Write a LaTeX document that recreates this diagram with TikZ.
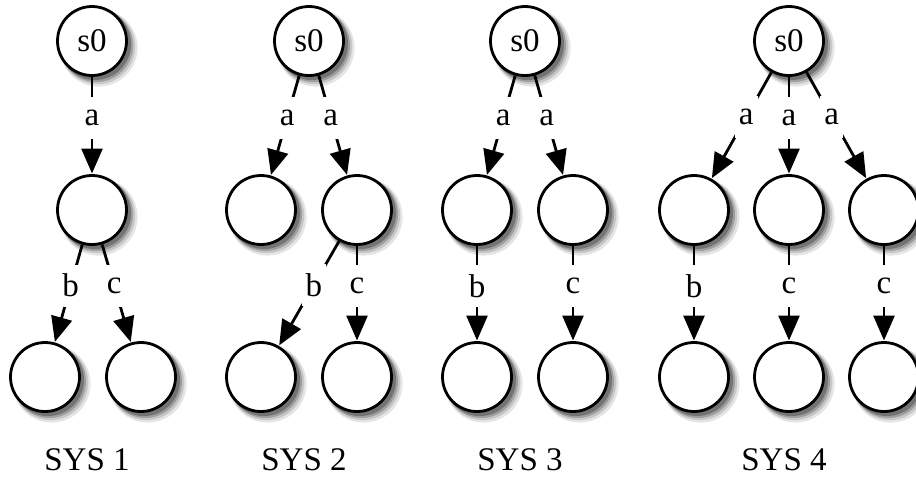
\documentclass[tikz,border=0pt]{standalone}
\usepackage{fontspec}
\setmainfont{Liberation Serif}
\usetikzlibrary{arrows.meta}
% state circle with a soft shadow to the lower right
\newcommand{\stnode}[3]{%
  \fill[black!10](#2)++(3.4pt,-3.4pt)circle(19.4pt);
  \fill[black!22](#2)++(2.8pt,-2.8pt)circle(18.8pt);
  \fill[black!38](#2)++(2.2pt,-2.2pt)circle(18.3pt);
  \fill[black!55](#2)++(1.5pt,-1.5pt)circle(18pt);
  \node[st](#1)at(#2){#3};}

\begin{document}
\begin{tikzpicture}[x=0.5pt,y=-0.5pt,
    st/.style={circle,draw,line width=1.4pt,fill=white,minimum size=34.5pt,inner sep=0pt},
    tr/.style={-{Triangle[length=12.5pt,width=10.5pt]},line width=1.4pt,shorten >=0.3pt},
    lbl/.style={pos=0.42,fill=white,inner xsep=2pt,inner ysep=0pt,minimum height=21pt},
    font=\fontsize{16.5}{19}\selectfont]
  \useasboundingbox(0,0)rectangle(916,478);
  % SYS 1
  \stnode{a0}{92,41}{s0}
  \stnode{a1}{92,210}{}
  \stnode{a2}{45,377}{}
  \stnode{a3}{141,377}{}
  \draw[tr](a0)--node[lbl]{a}(a1);
  \draw[tr](a1)--node[lbl]{b}(a2);
  \draw[tr](a1)--node[lbl]{c}(a3);
  \node[anchor=base](sys1)at(87,470){SYS 1};
  % SYS 2
  \stnode{b0}{309,41}{s0}
  \stnode{b1}{261,210}{}
  \stnode{b2}{357,210}{}
  \stnode{b3}{261,377}{}
  \stnode{b4}{357,377}{}
  \draw[tr](b0)--node[lbl]{a}(b1);
  \draw[tr](b0)--node[lbl]{a}(b2);
  \draw[tr](b2)--node[lbl]{b}(b3);
  \draw[tr](b2)--node[lbl]{c}(b4);
  \node[anchor=base](sys2)at(304,470){SYS 2};
  % SYS 3
  \stnode{c0}{525,41}{s0}
  \stnode{c1}{477,210}{}
  \stnode{c2}{573,210}{}
  \stnode{c3}{477,377}{}
  \stnode{c4}{573,377}{}
  \draw[tr](c0)--node[lbl]{a}(c1);
  \draw[tr](c0)--node[lbl]{a}(c2);
  \draw[tr](c1)--node[lbl]{b}(c3);
  \draw[tr](c2)--node[lbl]{c}(c4);
  \node[anchor=base](sys3)at(520,470){SYS 3};
  % SYS 4
  \stnode{d0}{789,41}{s0}
  \stnode{d1}{694,210}{}
  \stnode{d2}{789,210}{}
  \stnode{d3}{884,210}{}
  \stnode{d4}{694,377}{}
  \stnode{d5}{789,377}{}
  \stnode{d6}{884,377}{}
  \draw[tr](d0)--node[lbl]{a}(d1);
  \draw[tr](d0)--node[lbl]{a}(d2);
  \draw[tr](d0)--node[lbl]{a}(d3);
  \draw[tr](d1)--node[lbl]{b}(d4);
  \draw[tr](d2)--node[lbl]{c}(d5);
  \draw[tr](d3)--node[lbl]{c}(d6);
  \node[anchor=base](sys4)at(784,470){SYS 4};
\end{tikzpicture}
\end{document}
